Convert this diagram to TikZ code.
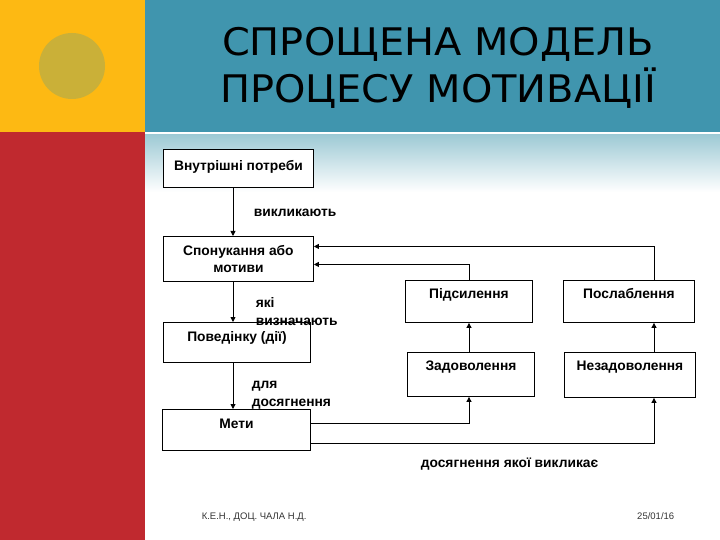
\documentclass[tikz,border=0pt]{standalone}
\usepackage{fontspec}
\setmainfont{Liberation Sans}
\newfontfamily\titlefont[FakeStretch=1.05]{DejaVu Sans}
\usetikzlibrary{arrows.meta}
\definecolor{slideyellow}{RGB}{253,185,19}
\definecolor{slideteal}{RGB}{64,149,174}
\definecolor{slidered}{RGB}{192,41,47}
\definecolor{slideolive}{RGB}{202,176,56}
\definecolor{fadeteal}{RGB}{158,202,213}

\begin{document}
\begin{tikzpicture}[x=1pt,y=-1pt,>={Triangle[length=5pt,width=5pt]},line width=0.9pt,
  box/.style 2 args={draw,fill=white,anchor=north west,align=center,
    font=\bfseries\fontsize{13.8}{17}\selectfont,
    inner xsep=2pt,inner ysep=8pt,text height=#1,text depth=#2},
  lbl/.style={anchor=base west,align=left,
    font=\bfseries\fontsize{13.8}{18}\selectfont},
  foot/.style={font=\fontsize{9.5}{11}\selectfont,text=black!80}]
\useasboundingbox (0,0) rectangle (720,540);
% slide background
\fill[slideyellow] (0,0) rectangle (145,132);
\fill[slideteal] (145,0) rectangle (720,132);
\fill[slidered] (0,132) rectangle (145,540);
\shade[top color=fadeteal,bottom color=white] (145,135) rectangle (720,192);
\fill[slideolive] (72,66) circle[radius=33];
\node[font=\titlefont\fontsize{38}{47}\selectfont,align=center] (title) at (438,68)
  {СПРОЩЕНА МОДЕЛЬ\\ПРОЦЕСУ МОТИВАЦІЇ};

% boxes
\node[box={13pt}{9pt},minimum width=150] (needs) at (163,149) {Внутрішні потреби};
\node[box={28pt}{1pt},minimum width=150] (motive) at (163,236) {Спонукання або\\мотиви};
\node[box={11pt}{13pt},minimum width=147] (behave) at (163,322) {Поведінку (дії)};
\node[box={11pt}{14pt},minimum width=148] (goal) at (162,409) {Мети};
\node[box={10pt}{16pt},minimum width=127] (reinf) at (405,280) {Підсилення};
\node[box={10pt}{16pt},minimum width=131] (weak) at (563,280) {Послаблення};
\node[box={10pt}{18pt},minimum width=127] (sat) at (407,352) {Задоволення};
\node[box={10pt}{19pt},minimum width=131] (unsat) at (564,352) {Незадоволення};

% labels
\node[lbl] (l1) at (250,216) {викликають};
\node[lbl] (l2) at (252,325) {які\\визначають};
\node[lbl] (l3) at (248,406) {для\\досягнення};
\node[lbl] (l4) at (417,467) {досягнення якої викликає};

% connectors
\coordinate (spine) at (233,0);
\coordinate (lcol) at (469,0);
\coordinate (rcol) at (654,0);
\draw[->] (spine |- needs.south) -- (spine |- motive.north);
\draw[->] (spine |- motive.south) -- (spine |- behave.north);
\draw[->] (spine |- behave.south) -- (spine |- goal.north);
\draw[->] ([yshift=6.5pt]goal.east) -| (lcol |- sat.south);
\draw[->] ([yshift=-13.5pt]goal.east) -| (rcol |- unsat.south);
\draw[->] (lcol |- sat.north) -- (lcol |- reinf.south);
\draw[->] (rcol |- unsat.north) -- (rcol |- weak.south);
\draw[->] (lcol |- reinf.north) |- ([yshift=-5.5pt]motive.east);
\draw[->] (rcol |- weak.north) |- ([yshift=12.5pt]motive.east);

% footer
\node[foot,anchor=base west] (author) at (198,519) {К.Е.Н., ДОЦ. ЧАЛА Н.Д.};
\node[foot,anchor=base east] (date) at (678,519) {25/01/16};
\end{tikzpicture}
\end{document}
